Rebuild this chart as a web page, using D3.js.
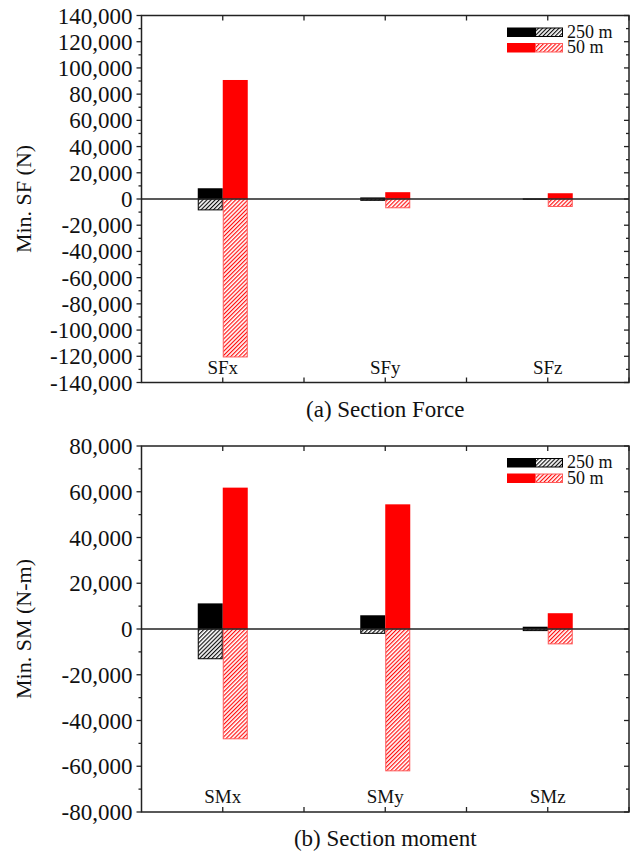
<!DOCTYPE html>
<html>
<head>
<meta charset="utf-8">
<script src="https://cdn.jsdelivr.net/npm/d3@7"></script>
<style>
  body { margin: 0; background: #fff; }
  svg text { font-family: "Liberation Serif", "Times New Roman", serif; fill: #111; }
</style>
</head>
<body>
<svg id="chart" width="636" height="853"></svg>
<script>
// données
var sfCategories = ["SFx", "SFy", "SFz"];
var sf250Pos = [8200, 1200, 200];
var sf250Neg = [-8300, -1000, -200];
var sf50Pos = [90800, 5200, 4400];
var sf50Neg = [-120500, -6700, -5700];

var smCategories = ["SMx", "SMy", "SMz"];
var sm250Pos = [11200, 6000, 1000];
var sm250Neg = [-13000, -1900, -700];
var sm50Pos = [61800, 54500, 6900];
var sm50Neg = [-48000, -62000, -6500];

var seriesNames = ["250 m", "50 m"];
var seriesColors = ["#000000", "#ff0000"];
var hatchBorders = ["#000000", "#ff5a5a"];

var sfTicks = d3.range(-140000, 140001, 20000);
var smTicks = d3.range(-80000, 80001, 20000);

var locale = d3.formatLocale({decimal: ".", thousands: ",", grouping: [3], currency: ["", ""], minus: "-"});
var fmt = locale.format(",");

var svg = d3.select("#chart");
var defs = svg.append("defs");

// motifs hachurés
seriesColors.forEach(function (c, i) {
  var p = defs.append("pattern")
    .attr("id", "hatch" + i)
    .attr("patternUnits", "userSpaceOnUse")
    .attr("width", 2.9)
    .attr("height", 2.9)
    .attr("patternTransform", "rotate(45)");
  p.append("rect").attr("width", 2.9).attr("height", 2.9).attr("fill", "#fff");
  p.append("line")
    .attr("x1", 0.6).attr("y1", 0).attr("x2", 0.6).attr("y2", 2.9)
    .attr("stroke", c).attr("stroke-width", 1.1);
});

var left = 141.5, right = 629;

function drawpanel (top, bottom, cats, ticks, pos250, neg250, pos50, neg50, ytitle, caption) {
  var g = svg.append("g");
  var x = d3.scaleBand().domain(cats).range([left, right]);
  var xs = d3.scaleBand().domain(seriesNames).range([0, 50]);
  var y = d3.scaleLinear().domain([ticks[0], ticks[ticks.length - 1]]).range([bottom, top]);
  var minor = d3.range(ticks[0], ticks[ticks.length - 1] + 1, 10000);

  var pos = [pos250, pos50], neg = [neg250, neg50];
  seriesNames.forEach(function (s, si) {
    cats.forEach(function (c, ci) {
      var x0 = x(c) + x.bandwidth() / 2 - 25 + xs(s);
      g.append("rect")
        .attr("x", x0)
        .attr("y", y(pos[si][ci]))
        .attr("width", xs.bandwidth())
        .attr("height", y(0) - y(pos[si][ci]))
        .attr("fill", seriesColors[si]);
      g.append("rect")
        .attr("x", x0 + 0.5)
        .attr("y", y(0))
        .attr("width", xs.bandwidth() - 1)
        .attr("height", y(neg[si][ci]) - y(0))
        .attr("fill", "url(#hatch" + si + ")")
        .attr("stroke", hatchBorders[si])
        .attr("stroke-width", 1);
    });
  });

  // ligne du zéro
  g.append("line")
    .attr("x1", left).attr("x2", right)
    .attr("y1", y(0)).attr("y2", y(0))
    .attr("stroke", "#222").attr("stroke-width", 1.3);

  var axcol = "#222";
  // cadre
  g.append("rect")
    .attr("x", left).attr("y", top)
    .attr("width", right - left).attr("height", bottom - top)
    .attr("fill", "none").attr("stroke", axcol).attr("stroke-width", 1.5);

  // graduations gauche (vers l'extérieur) et droite (vers l'intérieur)
  minor.forEach(function (v) {
    var major = ticks.indexOf(v) >= 0;
    var len = major ? 5 : 3;
    g.append("line").attr("x1", left - len).attr("x2", left)
      .attr("y1", y(v)).attr("y2", y(v)).attr("stroke", axcol).attr("stroke-width", 1.3);
    g.append("line").attr("x1", right - len).attr("x2", right)
      .attr("y1", y(v)).attr("y2", y(v)).attr("stroke", axcol).attr("stroke-width", 1.3);
  });
  ticks.forEach(function (v) {
    g.append("text")
      .attr("x", left - 9)
      .attr("y", y(v) + 8)
      .attr("text-anchor", "end")
      .attr("font-size", "23px")
      .text(fmt(v));
  });

  // graduations haut et bas
  var xt = [];
  cats.forEach(function (c) {
    xt.push(x(c) + x.bandwidth() / 2);
    xt.push(x(c) + x.bandwidth());
  });
  xt.forEach(function (v) {
    g.append("line").attr("x1", v).attr("x2", v)
      .attr("y1", bottom).attr("y2", bottom - 5).attr("stroke", axcol).attr("stroke-width", 1.3);
    g.append("line").attr("x1", v).attr("x2", v)
      .attr("y1", top).attr("y2", top + 5).attr("stroke", axcol).attr("stroke-width", 1.3);
  });
  cats.forEach(function (c) {
    g.append("text")
      .attr("x", x(c) + x.bandwidth() / 2)
      .attr("y", bottom - 9)
      .attr("text-anchor", "middle")
      .attr("font-size", "19px")
      .text(c);
  });

  g.append("text")
    .attr("transform", "translate(31," + ((top + bottom) / 2) + ") rotate(-90)")
    .attr("text-anchor", "middle")
    .attr("font-size", "22px")
    .text(ytitle);

  g.append("text")
    .attr("x", (left + right) / 2)
    .attr("y", bottom + 34)
    .attr("text-anchor", "middle")
    .attr("font-size", "23px")
    .text(caption);

  // légende
  seriesNames.forEach(function (s, si) {
    var ly = top + 12 + si * 15.5;
    g.append("rect").attr("x", 507).attr("y", ly).attr("width", 28).attr("height", 9.5)
      .attr("fill", seriesColors[si]);
    g.append("rect").attr("x", 535.5).attr("y", ly + 0.5).attr("width", 27).attr("height", 8.5)
      .attr("fill", "url(#hatch" + si + ")")
      .attr("stroke", hatchBorders[si]).attr("stroke-width", 1);
    g.append("text").attr("x", 567).attr("y", ly + 10)
      .attr("font-size", "18px")
      .text(s);
  });
}

drawpanel(15.5, 382.5, sfCategories, sfTicks, sf250Pos, sf250Neg, sf50Pos, sf50Neg,
  "Min. SF (N)", "(a) Section Force");
drawpanel(446, 812, smCategories, smTicks, sm250Pos, sm250Neg, sm50Pos, sm50Neg,
  "Min. SM (N-m)", "(b) Section moment");
</script>
</body>
</html>
